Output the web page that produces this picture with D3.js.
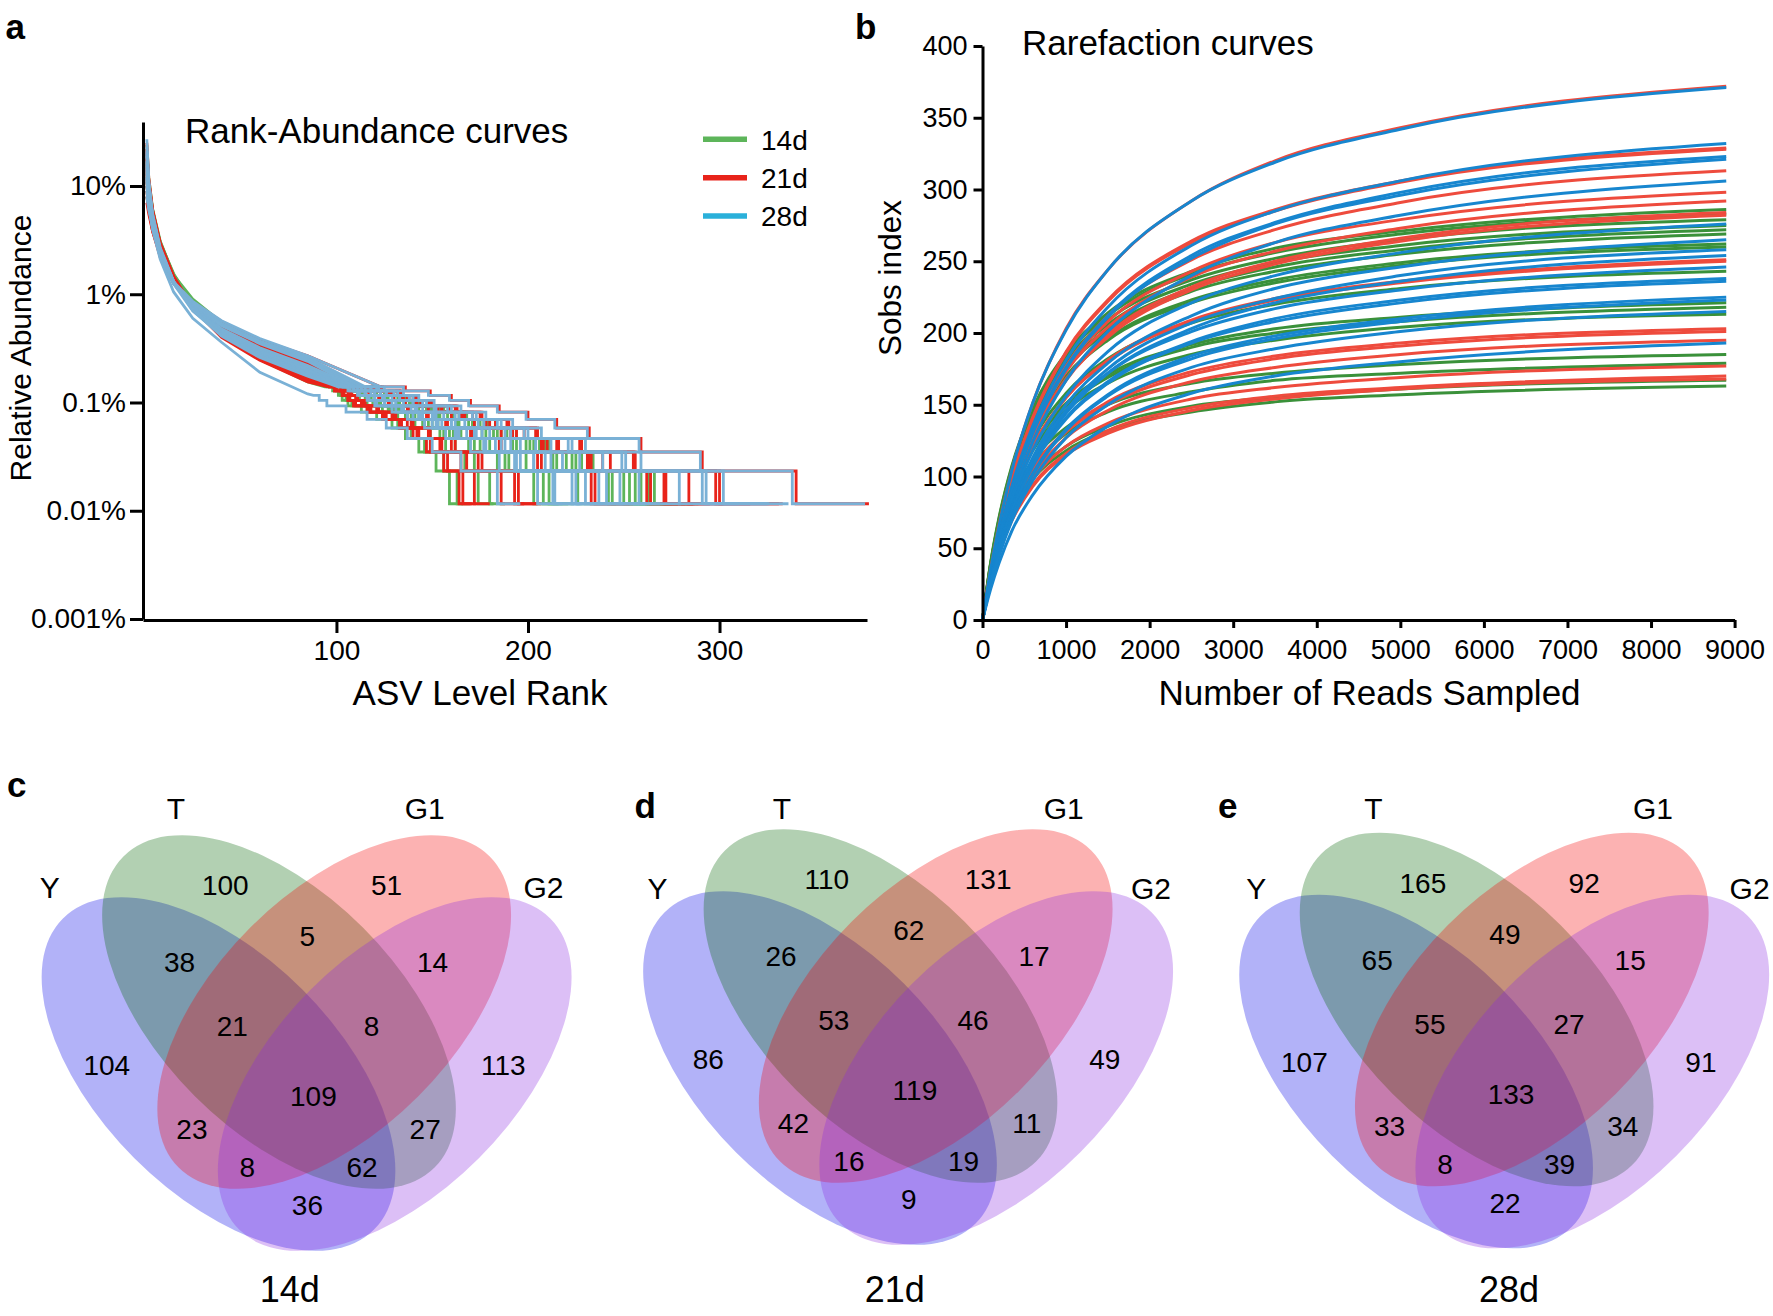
<!DOCTYPE html>
<html><head><meta charset="utf-8">
<script src="https://cdn.jsdelivr.net/npm/d3@7"></script>
<style>body{margin:0;background:#fff}</style>
</head><body>
<script>
// ---------------- DATA ----------------
const raHeadRanks = [1, 2, 4, 8, 15, 25, 40, 60, 85];
const raTailLevels = [0.1395, 0.1279, 0.1163, 0.1047, 0.093, 0.0814, 0.0698, 0.0581, 0.0465, 0.0349, 0.0233, 0.0116];
const raYTicks = [0.001, 0.01, 0.1, 1, 10];
const raYTickLabels = ["0.001%", "0.01%", "0.1%", "1%", "10%"];
const raXTicks = [100, 200, 300];
const groupNames = ["14d", "21d", "28d"];

const raHead14 = [
 [12,7.5,4.8,2.7,1.45,0.88,0.54,0.36,0.25],[16,8.5,5.2,2.8,1.5,0.9,0.55,0.36,0.24],
 [9,6.5,4.4,2.6,1.4,0.85,0.52,0.35,0.24],[20,10,5.5,2.9,1.5,0.86,0.52,0.34,0.23],
 [14,8,4.6,2.5,1.35,0.82,0.5,0.33,0.23],[11,7,4.2,2.4,1.32,0.8,0.5,0.33,0.22],
 [18,9,5,2.7,1.4,0.82,0.49,0.32,0.21],[8,6,4,2.4,1.35,0.8,0.48,0.31,0.21],
 [15,8.5,5,2.7,1.42,0.8,0.47,0.3,0.2],[22,11,6,3,1.5,0.8,0.45,0.28,0.18],
 [13,8,5,2.8,1.45,0.78,0.44,0.28,0.18],[10,7,4.6,2.6,1.4,0.76,0.43,0.27,0.18],
 [19,10,5.6,3,1.5,0.78,0.42,0.26,0.17],[24,12,6.2,3.1,1.5,0.76,0.41,0.25,0.16],
 [12,8,5,2.9,1.5,0.78,0.42,0.25,0.16],[17,9.5,5.5,3,1.55,0.8,0.42,0.25,0.155]];
const raTail14 = [
 [112,121,130,138,145,156,168,179,194,211,234,266],[111,120,129,136,143,154,166,177,192,209,232,263],
 [110,119,127,134,141,152,164,175,189,206,228,259],[109,117,126,133,139,150,161,172,186,203,225,256],
 [109,117,125,132,138,149,160,171,184,201,223,253],[108,116,123,130,136,147,158,169,182,199,220,250],
 [107,114,121,127,133,143,154,164,178,194,215,244],[106,113,120,126,132,142,153,163,176,192,213,242],
 [102,108,114,118,123,133,143,153,165,180,199,226],[102,108,114,118,123,132,141,150,161,175,190,211],
 [102,107,113,118,122,130,139,148,159,172,188,208],[100,105,111,115,119,127,136,145,156,169,184,203],
 [101,106,111,116,120,128,137,146,154,162,172,180],[99,104,108,112,116,124,132,141,149,157,167,174],
 [95,99,102,105,108,116,124,132,139,146,156,163],[94,98,101,103,106,113,121,129,136,143,152,159]];
const raEnd14 = [289,286,282,278,275,272,265,263,246,224,221,216,188,182,170,166];

const raHead21 = [
 [13,7,4.2,2.3,1.3,0.85,0.56,0.38,0.27],[18,9,4.8,2.4,1.3,0.82,0.53,0.36,0.25],
 [9,6,3.8,2.2,1.25,0.8,0.52,0.36,0.25],[15,8,4.5,2.4,1.3,0.82,0.52,0.35,0.24],
 [22,10,5,2.5,1.3,0.8,0.5,0.34,0.235],[11,7,4.3,2.4,1.3,0.8,0.5,0.33,0.23],
 [16,8.5,4.8,2.5,1.32,0.8,0.49,0.32,0.22],[7,5.5,3.8,2.3,1.28,0.78,0.48,0.32,0.22],
 [20,10,5.2,2.6,1.35,0.78,0.46,0.3,0.2],[12,7.5,4.6,2.5,1.33,0.77,0.46,0.3,0.2],
 [25,12,6,2.9,1.42,0.76,0.43,0.27,0.175],[14,8.5,5.2,2.8,1.4,0.75,0.43,0.27,0.175],
 [10,7,4.6,2.6,1.38,0.74,0.42,0.26,0.17],[18,10,5.6,2.9,1.45,0.75,0.41,0.25,0.16],
 [21,11,6,3,1.47,0.76,0.41,0.25,0.16],[8,6,4.2,2.6,1.4,0.74,0.4,0.245,0.155]];
const raTail21 = [
 [123,136,149,160,170,185,200,215,232,259,291,340],[114,124,134,142,150,163,176,190,205,228,256,300],
 [114,123,133,141,149,162,175,189,204,227,255,298],[111,119,128,135,142,155,167,180,194,216,243,284],
 [108,116,123,130,136,148,160,172,186,207,233,272],[113,123,132,140,148,159,171,183,198,215,239,271],
 [112,120,129,137,144,155,166,178,192,210,232,264],[110,119,127,134,141,153,165,178,191,208,231,262],
 [104,111,117,123,128,138,148,158,171,186,207,235],[104,110,117,122,127,137,147,157,170,185,205,233],
 [98,102,107,111,114,122,130,139,149,162,176,195],[98,102,106,110,113,121,129,137,148,160,174,193],
 [96,99,103,106,109,117,125,133,143,154,168,186],[99,103,108,111,115,122,131,140,148,155,165,172],
 [96,100,104,107,110,118,126,134,142,149,158,166],[96,99,103,106,109,116,124,133,140,147,156,164]];
const raEnd21 = [378,333,331,316,302,295,287,286,255,253,207,205,198,180,173,171];

const raHead28 = [
 [27,11,5,2.4,1.3,0.86,0.57,0.39,0.27],[15,8,4.5,2.3,1.28,0.83,0.54,0.37,0.26],
 [10,6.5,4,2.2,1.25,0.8,0.53,0.36,0.25],[19,9,4.8,2.4,1.3,0.82,0.52,0.36,0.25],
 [12,7,4.2,2.3,1.27,0.8,0.51,0.35,0.24],[23,11,5.5,2.6,1.3,0.78,0.48,0.32,0.22],
 [14,8,4.6,2.4,1.28,0.77,0.47,0.31,0.21],[9,6.5,4.2,2.3,1.25,0.75,0.46,0.3,0.21],
 [17,9,5,2.5,1.3,0.76,0.46,0.3,0.2],[11,7,4.4,2.4,1.27,0.74,0.45,0.29,0.2],
 [20,10,5.3,2.6,1.3,0.74,0.44,0.28,0.19],[13,8,4.8,2.5,1.28,0.72,0.43,0.28,0.185],
 [8,6,4.2,2.4,1.25,0.7,0.42,0.27,0.18],[16,9,5,2.6,1.3,0.72,0.42,0.27,0.18],
 [21,10.5,5.5,2.7,1.32,0.71,0.41,0.26,0.175],[12,7,4,2.1,1.05,0.6,0.36,0.19,0.12]];
const raTail28 = [
 [123,135,148,159,169,184,199,214,231,258,290,338],[115,125,135,143,151,165,178,192,207,230,259,302],
 [113,122,132,140,147,160,173,186,200,223,251,293],[112,121,130,138,145,158,171,184,198,221,249,291],
 [110,118,126,133,140,152,164,177,191,212,239,279],[110,118,126,133,140,151,162,174,188,204,227,258],
 [108,115,123,129,135,145,156,167,180,196,218,248],[106,113,120,125,131,142,152,162,176,191,212,241],
 [105,111,118,124,129,139,150,160,173,188,209,237],[103,109,115,120,125,135,145,155,168,183,203,230],
 [101,107,112,117,121,131,140,150,162,177,196,223],[106,113,120,125,131,141,151,160,172,186,203,225],
 [103,109,115,120,125,135,144,153,164,178,194,214],[103,109,115,120,125,134,143,152,163,177,193,213],
 [101,106,111,116,120,129,137,146,157,170,185,205],[86,87,88,91,95,105,116,126,137,150,165,184]];
const raEnd28 = [376,336,326,325,310,280,269,262,258,250,242,239,228,227,218,196];

const rarefX = [0, 100, 200, 350, 600, 1000, 1500, 2500, 3500, 5000, 8900];
const rarefXTicks = [0,1000,2000,3000,4000,5000,6000,7000,8000,9000];
const rarefYTicks = [0,50,100,150,200,250,300,350,400];
const rare14 = [
 [0,41,72,107,147,186,214,243,259,271,286],[0,40,71,106,146,184,212,241,256,269,283],
 [0,40,70,105,144,181,209,237,252,265,279],[0,39,69,103,142,179,206,234,249,261,275],
 [0,39,69,102,140,177,203,231,246,258,272],[0,38,68,101,139,175,201,229,243,255,269],
 [0,37,66,98,135,170,196,223,237,249,262],[0,37,66,98,134,169,195,221,235,247,260],
 [0,35,61,91,125,158,182,207,220,231,243],[0,36,63,91,122,151,171,192,203,211,221],
 [0,36,62,90,121,149,169,190,200,208,218],[0,35,60,88,118,146,165,185,195,204,213],
 [0,35,60,85,111,134,150,165,172,178,185],[0,34,58,82,107,130,145,159,167,172,179],
 [0,32,54,77,100,121,135,149,155,161,167],[0,31,53,75,98,118,132,145,152,157,163]];
const rare21 = [
 [0,36,67,104,151,203,244,292,320,343,372],[0,35,63,98,141,187,223,264,286,306,329],
 [0,34,63,98,140,186,222,263,285,305,328],[0,33,60,93,134,177,212,251,272,291,313],
 [0,34,62,95,135,176,208,243,263,279,298],[0,34,61,93,132,173,204,239,257,273,292],
 [0,33,59,91,129,168,199,232,250,266,284],[0,32,59,90,128,167,197,230,248,264,282],
 [0,32,57,87,121,155,181,209,224,236,251],[0,32,57,86,120,155,180,208,223,235,250],
 [0,29,51,76,105,132,152,173,184,193,203],[0,29,51,75,104,131,150,171,182,191,201],
 [0,28,49,73,100,127,146,166,176,185,195],[0,29,50,73,98,121,137,154,162,169,177],
 [0,28,48,70,94,116,132,148,156,162,170],[0,27,48,69,93,115,130,146,154,161,168]];
const rare28 = [
 [0,36,66,104,151,202,244,292,319,342,371],[0,32,59,93,135,181,218,261,285,306,332],
 [0,31,58,90,131,176,212,254,277,298,323],[0,31,57,90,130,175,211,252,276,296,321],
 [0,30,55,85,124,167,201,240,263,282,306],[0,29,53,82,118,156,187,221,240,256,276],
 [0,28,51,79,113,150,179,212,231,246,265],[0,27,50,77,110,146,175,207,224,240,258],
 [0,27,49,76,109,144,172,203,221,236,254],[0,28,51,78,111,146,172,201,217,230,246],
 [0,27,50,76,108,141,166,194,210,223,238],[0,27,49,75,107,140,165,193,208,221,236],
 [0,26,47,72,102,133,157,184,198,210,225],[0,26,46,71,101,132,156,182,196,208,223],
 [0,25,45,69,97,127,150,176,189,201,215],[0,22,40,62,87,114,135,158,170,180,193]];

const vennSets = ["Y", "T", "G1", "G2"];
const vennRegions = ["T","G1","T&G1","Y&T","G1&G2","Y&T&G1","T&G1&G2","Y","G2","Y&T&G1&G2","Y&G1","T&G2","Y&G1&G2","Y&T&G2","Y&G2"];
const venn14 = [100,51,5,38,14,21,8,104,113,109,23,27,8,62,36];
const venn21 = [110,131,62,26,17,53,46,86,49,119,42,11,16,19,9];
const venn28 = [165,92,49,65,15,55,27,107,91,133,33,34,8,39,22];

// ---------------- LAYOUT / STYLE ----------------
const FONT = '"Liberation Sans", Arial, Helvetica, sans-serif';
const raColors = ["#5db55a", "#e8231a", "#7ab1d6"];
const legendColors = ["#5db55a", "#e8231a", "#2ab0da"];
const rfColors = ["#3a913a", "#ee4b3d", "#1786cf"];
const vennColors = ["#0000e8", "#006400", "#f50000", "#8a2be2"];

const svg = d3.select("body").append("svg")
  .attr("width", 1773).attr("height", 1316)
  .style("font-family", FONT).style("background", "#fff");

function label(x, y, str, size, o = {}) {
  const t = svg.append("text").attr("x", x).attr("y", y).text(str)
    .attr("font-size", size).attr("fill", "#000");
  if (o.anchor) t.attr("text-anchor", o.anchor);
  if (o.bold) t.attr("font-weight", "bold");
  if (o.rotate) t.attr("transform", `rotate(-90,${x},${y})`);
  return t;
}
function styleAxis(g, fs, sw) {
  g.selectAll("path.domain").attr("stroke", "#000").attr("stroke-width", sw);
  g.selectAll(".tick line").attr("stroke", "#000").attr("stroke-width", sw);
  g.selectAll(".tick text").attr("font-size", fs).attr("font-family", FONT).attr("fill", "#000");
}

// ---------------- PANEL A ----------------
const xA = d3.scaleLinear().domain([-1, 377]).range([143, 867]);
const yA = d3.scaleLog().domain([0.001, 39]).range([619, 122]);
const lineA = d3.line().x(d => xA(d[0])).y(d => yA(d[1]));
function raPoints(head, tail, end) {
  const pts = head.map((v, i) => [raHeadRanks[i], v]);
  const last = head[head.length - 1];
  let k = raTailLevels.findIndex(l => l < last);
  pts.push([tail[k], raTailLevels[k]]);
  for (let j = k + 1; j < tail.length; j++) {
    pts.push([tail[j], raTailLevels[j - 1]]);
    pts.push([tail[j], raTailLevels[j]]);
  }
  pts.push([end, raTailLevels[raTailLevels.length - 1]]);
  return pts;
}
const raGroups = [[raHead14, raTail14, raEnd14], [raHead21, raTail21, raEnd21], [raHead28, raTail28, raEnd28]];
const gA = svg.append("g");
raGroups.forEach((grp, gi) => {
  gA.selectAll(null).data(grp[0]).enter().append("path")
    .attr("d", (h, i) => lineA(raPoints(h, grp[1][i], grp[2][i])))
    .attr("fill", "none").attr("stroke", raColors[gi]).attr("stroke-width", 2.8)
    .attr("stroke-linejoin", "miter");
});
const axAy = svg.append("g").attr("transform", "translate(143,0)")
  .call(d3.axisLeft(yA).tickValues(raYTicks).tickFormat((d, i) => raYTickLabels[i]).tickSize(13).tickSizeOuter(0).tickPadding(4));
styleAxis(axAy, 28, 3);
const axAx = svg.append("g").attr("transform", "translate(0,620)")
  .call(d3.axisBottom(xA).tickValues(raXTicks).tickSize(13).tickSizeOuter(0).tickPadding(7));
styleAxis(axAx, 28, 3);
label(185, 143, "Rank-Abundance curves", 35);
label(480, 705, "ASV Level Rank", 35, { anchor: "middle" });
label(31, 348, "Relative Abundance", 30, { anchor: "middle", rotate: true });
const legY = [139.3, 177.7, 216];
groupNames.forEach((n, i) => {
  svg.append("line").attr("x1", 703).attr("x2", 747).attr("y1", legY[i]).attr("y2", legY[i])
    .attr("stroke", legendColors[i]).attr("stroke-width", 5.5);
  label(761, legY[i] + 10.2, n, 28);
});
label(5.6, 39, "a", 35, { bold: true });

// ---------------- PANEL B ----------------
const xB = d3.scaleLinear().domain([0, 9000]).range([982.5, 1734.6]);
const yB = d3.scaleLinear().domain([0, 400]).range([620, 46]);
const lineB = d3.line().x((d, i) => xB(rarefX[i])).y(d => yB(d)).curve(d3.curveMonotoneX);
const gB = svg.append("g");
[rare14, rare21, rare28].forEach((arr, gi) => {
  gB.selectAll(null).data(arr).enter().append("path")
    .attr("d", lineB).attr("fill", "none").attr("stroke", rfColors[gi]).attr("stroke-width", 3);
});
const axBy = svg.append("g").attr("transform", "translate(982.5,0)")
  .call(d3.axisLeft(yB).tickValues(rarefYTicks).tickFormat(d3.format("d")).tickSize(9).tickSizeOuter(0).tickPadding(6));
styleAxis(axBy, 27, 3);
const axBx = svg.append("g").attr("transform", "translate(0,620)")
  .call(d3.axisBottom(xB).tickValues(rarefXTicks).tickFormat(d3.format("d")).tickSize(8).tickSizeOuter(0).tickPadding(12));
styleAxis(axBx, 27, 3);
label(1022, 55, "Rarefaction curves", 35);
label(1369.5, 705, "Number of Reads Sampled", 35, { anchor: "middle" });
label(900.5, 278, "Sobs index", 31.5, { anchor: "middle", rotate: true });
label(855, 39, "b", 35, { bold: true });

// ---------------- PANELS C-E (Venn) ----------------
const vennData = [venn14, venn21, venn28];
const VCX = [306.6, 908.1, 1504.2];
const VCY = [1012, 1006, 1009.5];
const ELL = [[-88.1, 62, 45], [-27.6, 0, 45], [27.6, 0, -45], [88.1, 62, -45]];
const REG_OFF = [[-81.3,-127],[80,-127],[0.7,-75.6],[-127,-50],[126,-50],[-74.3,14.4],[64.9,14.4],
  [-199.8,52.6],[196.7,52.6],[6.8,84.1],[-114.7,116.7],[118.6,116.7],[-59.2,154.8],[55.4,154.8],[0.8,193.4]];
const SET_POS = [
  [[49.8,887],[176,808],[424.8,808],[543.4,887]],
  [[657.4,888],[781.8,808],[1063.8,808],[1151,888]],
  [[1256.2,888],[1373.3,808],[1652.9,808],[1749.6,888]]];
const TIME_X = [289.7, 894.7, 1509];
const LETTERS = [["c", 7, 797], ["d", 634.4, 818], ["e", 1218, 818]];

vennData.forEach((counts, p) => {
  const g = svg.append("g");
  g.selectAll("ellipse").data(vennSets).enter().append("ellipse")
    .attr("rx", 220).attr("ry", 119)
    .attr("transform", (d, i) => `translate(${VCX[p] + ELL[i][0]},${VCY[p] + ELL[i][1]}) rotate(${ELL[i][2]})`)
    .attr("fill", (d, i) => vennColors[i]).attr("fill-opacity", 0.3);
  counts.forEach((c, i) => {
    label(VCX[p] + REG_OFF[i][0], VCY[p] + REG_OFF[i][1] + 10, c, 28, { anchor: "middle" });
  });
  vennSets.forEach((s, i) => {
    label(SET_POS[p][i][0], SET_POS[p][i][1] + 10.7, s, 30, { anchor: "middle" });
  });
  label(TIME_X[p], 1302, groupNames[p], 36, { anchor: "middle" });
  label(LETTERS[p][1], LETTERS[p][2], LETTERS[p][0], 35, { bold: true });
});
</script>
</body></html>
